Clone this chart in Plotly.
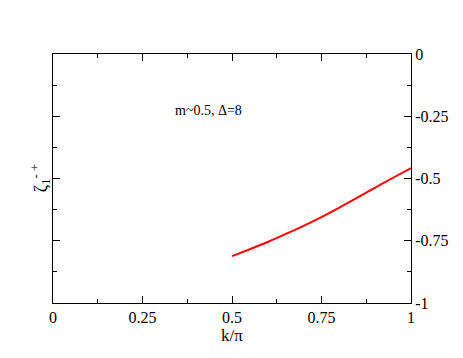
import plotly.graph_objects as go

# data
k_vals = [0.5, 0.55, 0.6, 0.65, 0.7, 0.75, 0.8, 0.85, 0.9, 0.95, 1.0]
zeta_vals = [-0.812, -0.784, -0.755, -0.723, -0.69, -0.655, -0.617, -0.577, -0.537, -0.497, -0.458]

x_ticks = [0, 0.25, 0.5, 0.75, 1]
x_ticktext = ["0", "0.25", "0.5", "0.75", "1"]
y_ticks = [0, -0.25, -0.5, -0.75, -1]
y_ticktext = ["0", "-0.25", "-0.5", "-0.75", "-1"]

font = "Liberation Serif, Times New Roman, serif"

fig = go.Figure()
fig.add_trace(go.Scatter(
    x=k_vals, y=zeta_vals, mode="lines",
    line=dict(color="#ff0000", width=2, shape="spline", smoothing=0.8),
    showlegend=False
))

fig.add_annotation(
    x=0.433, y=-0.225, xref="x", yref="y",
    text="m~0.5, Δ=8", showarrow=False,
    font=dict(family=font, size=14, color="black")
)
# left axis title, rotated
fig.add_annotation(
    x=-0.075, y=-0.5, xref="paper", yref="y",
    text="ζ<sub>1</sub><sup>- +</sup>", showarrow=False,
    textangle=-90, font=dict(family=font, size=18, color="black")
)

fig.update_layout(
    width=463, height=358,
    margin=dict(l=53, r=52, t=54, b=55),
    paper_bgcolor="white", plot_bgcolor="white",
    font=dict(family=font, size=16, color="black"),
    xaxis=dict(
        range=[0, 1], tickvals=x_ticks, ticktext=x_ticktext,
        ticks="inside", ticklen=7, tickcolor="black", tickwidth=1,
        minor=dict(ticks="inside", dtick=0.125, tick0=0, ticklen=4, tickcolor="black"),
        showline=True, linecolor="black", linewidth=1, mirror="ticks",
        showgrid=False, zeroline=False, automargin=False,
        title=dict(text="k/π", font=dict(size=17), standoff=0),
    ),
    yaxis=dict(
        range=[-1, 0], side="right", tickvals=y_ticks, ticktext=y_ticktext,
        ticks="inside", ticklen=7, tickcolor="black", tickwidth=1,
        minor=dict(ticks="inside", dtick=0.125, tick0=0, ticklen=4, tickcolor="black"),
        showline=True, linecolor="black", linewidth=1, mirror="ticks",
        showgrid=False, zeroline=False, automargin=False,
    ),
)

fig.write_html("out.html", config={"displayModeBar": False},
               post_script="document.body.style.margin='0';")
